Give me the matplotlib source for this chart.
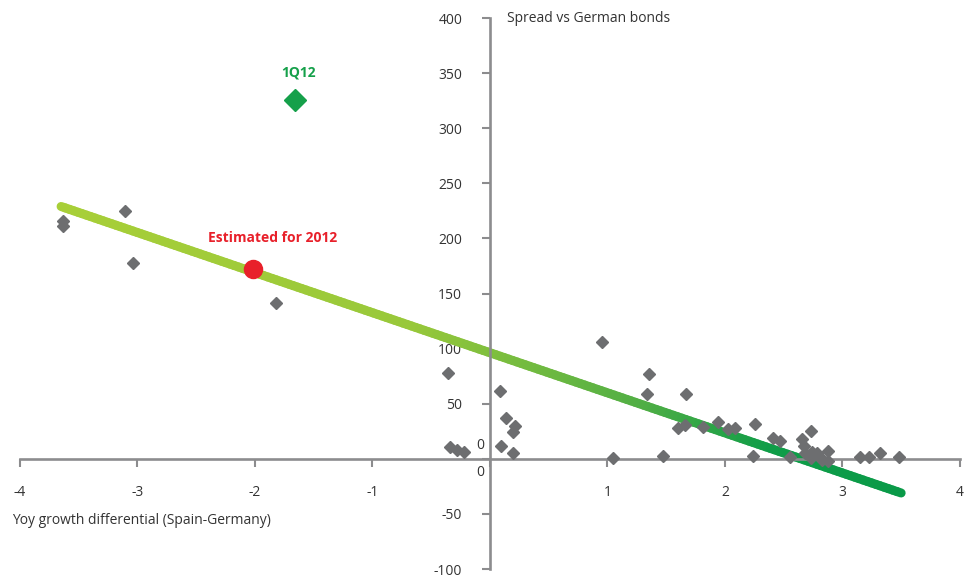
import matplotlib.pyplot as plt
import numpy as np
from matplotlib.collections import LineCollection
from matplotlib.colors import LinearSegmentedColormap

plt.rcParams["font.family"] = ["Open Sans", "DejaVu Sans"]

# scatter of quarterly observations: growth differential vs spread (bp)
growth_diff = [
    -3.63, -3.63, -3.11, -3.04, -1.82, -0.36, -0.34, -0.28, -0.22,
    0.085, 0.14, 0.21, 0.20, 0.09, 0.20, 0.95, 1.05, 1.35, 1.34, 1.47,
    1.67, 2.24, 1.60, 1.66, 1.81, 1.94, 2.03, 2.09, 2.26, 2.41, 2.47,
    2.55, 2.66, 2.73, 2.67, 2.68, 2.74, 2.78, 2.73, 2.81, 2.88, 2.88,
    2.83, 3.15, 3.23, 3.32, 3.48,
]
spread = [
    216, 211, 225, 178, 141, 78, 11, 8, 6,
    62, 37, 30, 24, 12, 5, 106, 1, 77, 59, 3,
    59, 3, 28, 31, 29, 33, 27, 28, 32, 19, 16,
    2, 18, 25, 12, 5, 6, 5, 1, 2, 7, -2,
    -1, 2, 2, 5, 2,
]

# highlighted points
q1_12 = (-1.66, 326)
estimated_2012 = (-2.02, 172)

# regression line end points
trend_x = [-3.65, 3.5]
trend_y = [229, -31]

x_ticks = [-4, -3, -2, -1, 0, 1, 2, 3, 4]
y_ticks = [-100, -50, 0, 50, 100, 150, 200, 250, 300, 350, 400]

AXIS_GREY = "#8c8c8e"
TEXT = "#333333"
FS = 10

fig = plt.figure(figsize=(9.65, 5.83), dpi=100)
ax = fig.add_axes([0.0207, 0.024, 0.974, 0.945])
ax.set_xlim(-4, 4)
ax.set_ylim(-100, 400)

for side in ["top", "right"]:
    ax.spines[side].set_visible(False)
for side in ["left", "bottom"]:
    ax.spines[side].set_position(("data", 0))
    ax.spines[side].set_color(AXIS_GREY)
    ax.spines[side].set_linewidth(1.9)

ax.set_xticks(x_ticks)
ax.set_xticklabels(["" if t == 0 else str(t) for t in x_ticks])
ax.set_yticks(y_ticks)
ax.set_yticklabels(["" if t == 0 else str(t) for t in y_ticks])
ax.tick_params(axis="x", direction="out", length=6, width=1.5, color=AXIS_GREY,
               pad=13, labelsize=FS, labelcolor=TEXT)
ax.tick_params(axis="y", direction="out", length=6, width=1.5, color=AXIS_GREY,
               pad=14, labelsize=FS, labelcolor=TEXT)
ax.text(-0.08, 12, "0", fontsize=FS, color=TEXT, ha="center", va="center")
ax.text(-0.08, -12, "0", fontsize=FS, color=TEXT, ha="center", va="center")

# gradient trend line
cmap = LinearSegmentedColormap.from_list(
    "trend", [(0.0, "#a8cf38"), (0.42, "#98c83a"), (0.7, "#4fae45"), (0.85, "#0f9d48"), (1.0, "#0a9a48")]
)
xs = np.linspace(trend_x[0], trend_x[1], 200)
ys = np.interp(xs, trend_x, trend_y)
pts = np.column_stack([xs, ys]).reshape(-1, 1, 2)
segs = np.concatenate([pts[:-1], pts[1:]], axis=1)
lc = LineCollection(segs, cmap=cmap, linewidths=6.5, capstyle="round", zorder=2)
lc.set_array(np.linspace(0, 1, len(segs)))
ax.add_collection(lc)

ax.plot(growth_diff, spread, linestyle="none", marker="D", markersize=6.3,
        color="#6d6e70", zorder=3, clip_on=False)

ax.plot(*q1_12, marker="D", markersize=11, color="#15a04a", linestyle="none", zorder=4)
ax.text(q1_12[0] + 0.03, q1_12[1] + 25, "1Q12", color="#15a04a", fontsize=FS,
        fontweight="bold", ha="center", va="center")

ax.plot(*estimated_2012, marker="o", markersize=13, color="#e8202a", linestyle="none", zorder=4)
ax.text(estimated_2012[0] + 0.17, estimated_2012[1] + 28, "Estimated for 2012", color="#e8202a",
        fontsize=FS, fontweight="bold", ha="center", va="center")

fig.text(12 / 965, 1 - 520 / 583, "Yoy growth differential (Spain-Germany)", fontsize=FS,
         color=TEXT, ha="left", va="center")
fig.text(507 / 965, 1 - 18 / 583, "Spread vs German bonds", fontsize=FS,
         color=TEXT, ha="left", va="center")

fig.savefig("out.png", dpi=100)
